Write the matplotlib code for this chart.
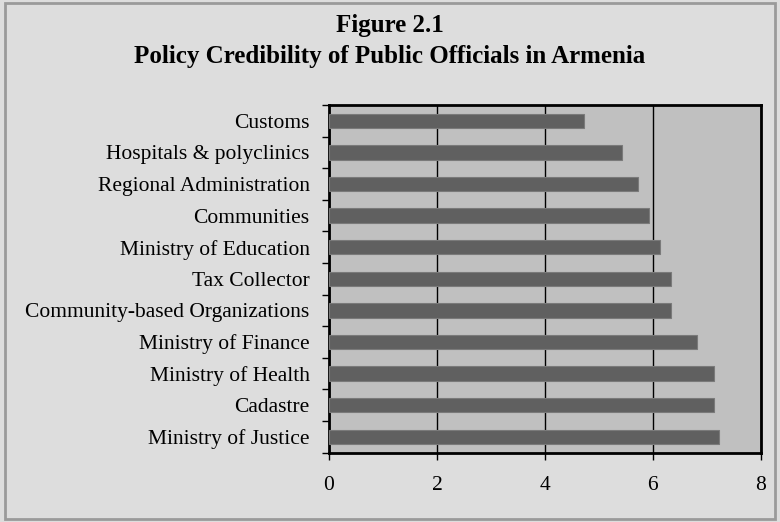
import matplotlib.pyplot as plt
from matplotlib.patches import Rectangle

# datos (de arriba hacia abajo)
categorias = [
    "Customs",
    "Hospitals & polyclinics",
    "Regional Administration",
    "Communities",
    "Ministry of Education",
    "Tax Collector",
    "Community-based Organizations",
    "Ministry of Finance",
    "Ministry of Health",
    "Cadastre",
    "Ministry of Justice",
]
valores = [4.73, 5.42, 5.73, 5.93, 6.13, 6.33, 6.33, 6.82, 7.14, 7.14, 7.22]
x_ticks = [0, 2, 4, 6, 8]

plt.rcParams['font.family'] = ['Liberation Serif', 'DejaVu Serif']

fig = plt.figure(figsize=(7.8, 5.22), dpi=100)
fig.patch.set_facecolor('#dddddd')

# marco exterior
fig.patches.append(Rectangle((0.006, 0.006), 0.988, 0.988, transform=fig.transFigure,
                             fill=False, edgecolor='#9a9a9a', linewidth=2))

ax = fig.add_axes([0.4218, 0.1328, 0.5535, 0.6661])
ax.set_facecolor('#c0c0c0')

n = len(categorias)
pos = [n - 1 - i for i in range(n)]
ax.barh(pos, valores, height=0.455, color='#606060', edgecolor='#7a7a7a',
        linewidth=0.8, zorder=3)

ax.set_xlim(0, 8)
ax.set_ylim(-0.5, n - 0.5)

# rejilla
ax.set_xticks(x_ticks)
ax.set_xticklabels([str(t) for t in x_ticks], fontsize=15.5)
ax.grid(axis='x', color='black', linewidth=1, zorder=1)

# marcas en los limites de categoria, etiquetas al centro
ax.set_yticks([i - 0.5 for i in range(n + 1)])
ax.set_yticklabels([])
ax.set_yticks(pos, minor=True)
ax.set_yticklabels(categorias, minor=True, fontsize=15.5)
ax.tick_params(axis='y', which='minor', length=0, pad=14)
ax.tick_params(axis='y', which='major', length=5, width=1, direction='out')
ax.tick_params(axis='x', length=5, width=1, direction='out', pad=12)

for s in ax.spines.values():
    s.set_linewidth(2)
    s.set_color('black')

fig.text(0.5, 0.952, "Figure 2.1", ha='center', va='center',
         fontsize=18, fontweight='bold')
fig.text(0.5, 0.891, "Policy Credibility of Public Officials in Armenia",
         ha='center', va='center', fontsize=18, fontweight='bold')

plt.savefig("out.png", dpi=100, facecolor=fig.get_facecolor())
plt.close()
